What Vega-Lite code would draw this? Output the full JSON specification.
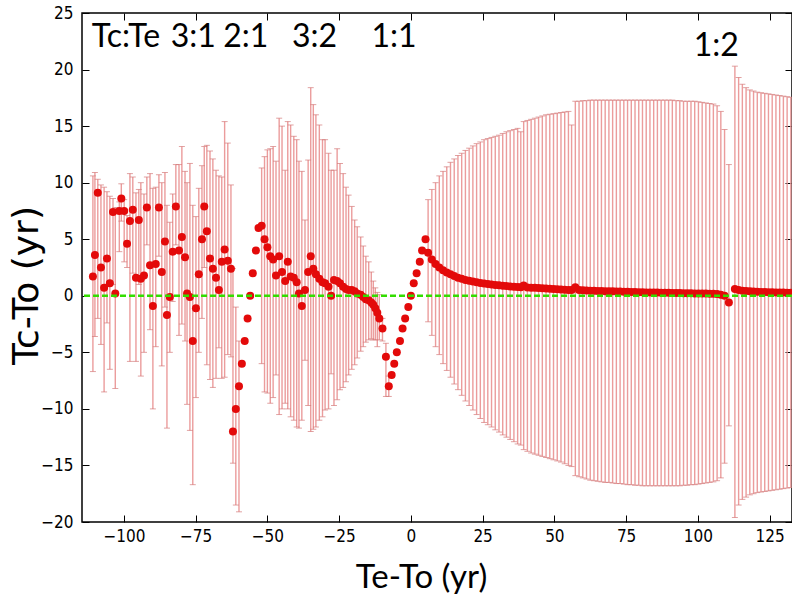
{
"$schema": "https://vega.github.io/schema/vega-lite/v6.json",
"width": 710, "height": 509,
"autosize": {"type": "none"},
"padding": {"left": 82, "top": 13, "right": 0, "bottom": 74},
"background": "white",
"datasets": {
"pts": [
{"x":-110.8,"y":1.7,"lo":-6.7,"hi":10.6},
{"x":-110.1,"y":3.6,"lo":-3.6,"hi":10.9},
{"x":-109.1,"y":9.1,"lo":-2.0,"hi":10.3},
{"x":-108.0,"y":2.5,"lo":-4.3,"hi":9.8},
{"x":-106.9,"y":0.7,"lo":-8.5,"hi":9.6},
{"x":-105.9,"y":3.3,"lo":-2.4,"hi":9.2},
{"x":-104.9,"y":1.1,"lo":-6.5,"hi":8.8},
{"x":-103.8,"y":7.4,"lo":1.0,"hi":8.6},
{"x":-103.0,"y":0.2,"lo":-8.2,"hi":7.8},
{"x":-101.6,"y":7.5,"lo":3.9,"hi":8.3},
{"x":-100.9,"y":8.6,"lo":6.6,"hi":9.9},
{"x":-99.9,"y":7.5,"lo":3.0,"hi":8.5},
{"x":-98.9,"y":4.6,"lo":2.5,"hi":7.1},
{"x":-97.9,"y":6.6,"lo":-5.8,"hi":10.8},
{"x":-96.9,"y":7.6,"lo":2.0,"hi":10.5},
{"x":-95.8,"y":1.6,"lo":-5.8,"hi":9.1},
{"x":-94.8,"y":6.7,"lo":1.0,"hi":9.4},
{"x":-94.1,"y":1.5,"lo":-7.1,"hi":10.0},
{"x":-93.0,"y":1.8,"lo":-5.0,"hi":9.0},
{"x":-92.0,"y":7.8,"lo":4.5,"hi":10.5},
{"x":-90.9,"y":2.7,"lo":-3.0,"hi":10.8},
{"x":-89.9,"y":-0.9,"lo":-10.0,"hi":9.5},
{"x":-88.9,"y":2.8,"lo":-4.5,"hi":9.6},
{"x":-87.8,"y":7.8,"lo":3.5,"hi":10.7},
{"x":-86.8,"y":2.1,"lo":-6.2,"hi":10.0},
{"x":-85.7,"y":4.8,"lo":-1.0,"hi":10.9},
{"x":-85.0,"y":-1.7,"lo":-11.7,"hi":8.0},
{"x":-84.0,"y":-0.1,"lo":-5.0,"hi":6.5},
{"x":-83.0,"y":3.9,"lo":-0.5,"hi":9.0},
{"x":-81.9,"y":7.9,"lo":4.5,"hi":11.6},
{"x":-80.8,"y":4.0,"lo":-3.5,"hi":11.6},
{"x":-79.8,"y":5.2,"lo":-2.5,"hi":13.2},
{"x":-78.7,"y":3.4,"lo":-4.0,"hi":11.0},
{"x":-78.0,"y":0.2,"lo":-9.6,"hi":10.0},
{"x":-77.0,"y":-0.1,"lo":-11.9,"hi":11.7},
{"x":-76.0,"y":-4.0,"lo":-16.7,"hi":8.0},
{"x":-74.9,"y":-1.1,"lo":-9.0,"hi":7.0},
{"x":-73.9,"y":1.9,"lo":-5.0,"hi":9.5},
{"x":-72.8,"y":5.0,"lo":-2.0,"hi":11.5},
{"x":-72.0,"y":7.9,"lo":2.5,"hi":13.2},
{"x":-71.1,"y":5.7,"lo":-6.1,"hi":13.3},
{"x":-70.0,"y":3.3,"lo":-7.4,"hi":12.8},
{"x":-69.0,"y":2.4,"lo":-8.1,"hi":12.1},
{"x":-67.9,"y":1.6,"lo":-7.3,"hi":11.1},
{"x":-66.9,"y":0.5,"lo":-4.6,"hi":10.6},
{"x":-65.9,"y":3.0,"lo":-7.3,"hi":10.5},
{"x":-64.9,"y":4.1,"lo":-7.2,"hi":15.4},
{"x":-63.8,"y":3.1,"lo":-5.2,"hi":13.5},
{"x":-62.7,"y":2.4,"lo":-5.4,"hi":9.8},
{"x":-62.0,"y":-12.0,"lo":-14.8,"hi":2.4},
{"x":-61.0,"y":-10.0,"lo":-18.5,"hi":-1.0},
{"x":-59.9,"y":-8.0,"lo":-19.1,"hi":-4.0},
{"x":-58.9,"y":-6.0},
{"x":-57.9,"y":-4.0},
{"x":-56.9,"y":-2.0},
{"x":-56.0,"y":0.0},
{"x":-55.1,"y":2.0},
{"x":-54.0,"y":4.0},
{"x":-53.1,"y":6.0},
{"x":-52.0,"y":6.2,"lo":-6.0,"hi":11.3},
{"x":-51.0,"y":5.0,"lo":-8.5,"hi":12.3},
{"x":-50.0,"y":4.3,"lo":-8.6,"hi":12.9},
{"x":-49.0,"y":3.5,"lo":-9.5,"hi":13.0},
{"x":-48.0,"y":3.2,"lo":-9.0,"hi":13.2},
{"x":-47.0,"y":1.8,"lo":-7.0,"hi":11.9},
{"x":-45.9,"y":3.5,"lo":-10.5,"hi":15.7},
{"x":-44.9,"y":2.1,"lo":-10.0,"hi":15.0},
{"x":-43.8,"y":1.3,"lo":-9.5,"hi":11.1},
{"x":-42.9,"y":3.0,"lo":-10.0,"hi":15.4},
{"x":-41.9,"y":1.7,"lo":-10.7,"hi":15.1},
{"x":-40.8,"y":1.6,"lo":-11.0,"hi":14.1},
{"x":-39.8,"y":1.2,"lo":-11.6,"hi":13.8},
{"x":-39.0,"y":0.2,"lo":-11.7,"hi":11.9},
{"x":-38.0,"y":-0.9,"lo":-11.0,"hi":11.0},
{"x":-36.9,"y":0.5,"lo":-5.7,"hi":6.7},
{"x":-35.8,"y":2.1,"lo":-9.7,"hi":12.0},
{"x":-34.9,"y":3.5,"lo":-12.0,"hi":18.4},
{"x":-34.0,"y":2.4,"lo":-11.8,"hi":16.9},
{"x":-33.1,"y":1.9,"lo":-11.6,"hi":16.0},
{"x":-31.9,"y":1.5,"lo":-11.0,"hi":15.1},
{"x":-30.8,"y":1.2,"lo":-10.7,"hi":13.8},
{"x":-29.9,"y":1.1,"lo":-10.1,"hi":13.8},
{"x":-28.7,"y":0.8,"lo":-10.0,"hi":12.6},
{"x":-27.8,"y":0.0,"lo":-6.9,"hi":11.1},
{"x":-26.8,"y":1.4,"lo":-9.7,"hi":11.1},
{"x":-25.7,"y":1.3,"lo":-9.2,"hi":13.0},
{"x":-24.7,"y":1.1,"lo":-8.3,"hi":11.7},
{"x":-23.6,"y":0.8,"lo":-8.1,"hi":10.8},
{"x":-22.6,"y":0.6,"lo":-7.6,"hi":9.6},
{"x":-21.7,"y":0.5,"lo":-7.0,"hi":8.9},
{"x":-20.6,"y":0.5,"lo":-6.5,"hi":7.9},
{"x":-19.6,"y":0.4,"lo":-6.1,"hi":6.7},
{"x":-18.7,"y":0.2,"lo":-5.5,"hi":6.1},
{"x":-17.5,"y":0.1,"lo":-4.9,"hi":5.2},
{"x":-16.6,"y":-0.1,"lo":-4.5,"hi":4.4},
{"x":-15.7,"y":-0.3,"lo":-4.1,"hi":3.5},
{"x":-14.7,"y":-0.4,"lo":-3.9,"hi":3.0},
{"x":-13.8,"y":-0.6,"lo":-3.8,"hi":2.1},
{"x":-13.1,"y":-0.8,"lo":-3.9,"hi":1.3},
{"x":-12.4,"y":-1.1,"lo":-3.9,"hi":0.7},
{"x":-11.7,"y":-1.5,"lo":-4.5,"hi":0.3},
{"x":-11.0,"y":-2.0,"lo":-3.9,"hi":0.1},
{"x":-9.9,"y":-2.9,"lo":-4.0,"hi":-2.0},
{"x":-8.7,"y":-5.4,"lo":-8.9,"hi":-4.2},
{"x":-7.7,"y":-8.0,"lo":-8.9,"hi":-7.1},
{"x":-6.7,"y":-7.0},
{"x":-5.8,"y":-6.0},
{"x":-4.9,"y":-5.0},
{"x":-3.8,"y":-4.0},
{"x":-2.9,"y":-2.9},
{"x":-2.0,"y":-2.0},
{"x":-0.9,"y":-1.0},
{"x":0.0,"y":0.0},
{"x":1.0,"y":1.1},
{"x":2.0,"y":2.0},
{"x":3.1,"y":3.0},
{"x":3.9,"y":4.0},
{"x":5.1,"y":5.0},
{"x":6.0,"y":3.8,"lo":-2.3,"hi":8.5},
{"x":7.3,"y":3.2,"lo":-3.5,"hi":9.4},
{"x":8.6,"y":2.8,"lo":-4.5,"hi":10.0},
{"x":9.9,"y":2.5,"lo":-5.2,"hi":10.6},
{"x":11.2,"y":2.25,"lo":-6.0,"hi":11.0},
{"x":12.5,"y":2.05,"lo":-6.6,"hi":11.4},
{"x":13.8,"y":1.9,"lo":-7.2,"hi":11.8},
{"x":15.1,"y":1.75,"lo":-7.8,"hi":12.1},
{"x":16.4,"y":1.6,"lo":-8.3,"hi":12.4},
{"x":17.7,"y":1.5,"lo":-8.8,"hi":12.6},
{"x":19.0,"y":1.4,"lo":-9.3,"hi":12.85},
{"x":20.3,"y":1.33,"lo":-9.7,"hi":13.05},
{"x":21.6,"y":1.26,"lo":-10.1,"hi":13.25},
{"x":22.9,"y":1.2,"lo":-10.5,"hi":13.45},
{"x":24.2,"y":1.14,"lo":-10.85,"hi":13.6},
{"x":25.5,"y":1.09,"lo":-11.2,"hi":13.8},
{"x":26.8,"y":1.04,"lo":-11.4,"hi":13.9},
{"x":28.1,"y":1.0,"lo":-11.6,"hi":14.0},
{"x":29.4,"y":0.96,"lo":-11.85,"hi":14.1},
{"x":30.7,"y":0.92,"lo":-12.05,"hi":14.2},
{"x":32.0,"y":0.89,"lo":-12.3,"hi":14.35},
{"x":33.3,"y":0.86,"lo":-12.5,"hi":14.5},
{"x":34.6,"y":0.83,"lo":-12.7,"hi":14.6},
{"x":35.9,"y":0.8,"lo":-12.9,"hi":14.7},
{"x":37.2,"y":0.78,"lo":-13.1,"hi":14.8},
{"x":38.3,"y":0.76,"lo":-13.2,"hi":14.5},
{"x":39.3,"y":0.9,"lo":-13.6,"hi":15.4},
{"x":40.6,"y":0.74,"lo":-13.75,"hi":15.5},
{"x":41.9,"y":0.72,"lo":-13.9,"hi":15.6},
{"x":43.2,"y":0.7,"lo":-14.0,"hi":15.7},
{"x":44.5,"y":0.68,"lo":-14.1,"hi":15.8},
{"x":45.8,"y":0.66,"lo":-14.2,"hi":15.9},
{"x":47.1,"y":0.64,"lo":-14.3,"hi":16.0},
{"x":48.4,"y":0.62,"lo":-14.4,"hi":16.05},
{"x":49.7,"y":0.6,"lo":-14.5,"hi":16.1},
{"x":51.0,"y":0.58,"lo":-14.6,"hi":16.15},
{"x":52.3,"y":0.56,"lo":-14.7,"hi":16.2},
{"x":53.6,"y":0.54,"lo":-14.85,"hi":16.25},
{"x":54.9,"y":0.52,"lo":-15.0,"hi":16.3},
{"x":56.0,"y":0.5,"lo":-15.1,"hi":15.1},
{"x":57.3,"y":0.75,"lo":-15.9,"hi":17.2},
{"x":58.6,"y":0.5,"lo":-16.0,"hi":17.2},
{"x":59.9,"y":0.48,"lo":-16.1,"hi":17.25},
{"x":61.2,"y":0.46,"lo":-16.2,"hi":17.25},
{"x":62.5,"y":0.45,"lo":-16.3,"hi":17.3},
{"x":63.8,"y":0.44,"lo":-16.35,"hi":17.3},
{"x":65.1,"y":0.43,"lo":-16.4,"hi":17.3},
{"x":66.4,"y":0.42,"lo":-16.45,"hi":17.3},
{"x":67.7,"y":0.41,"lo":-16.5,"hi":17.3},
{"x":69.0,"y":0.4,"lo":-16.5,"hi":17.3},
{"x":70.3,"y":0.39,"lo":-16.55,"hi":17.3},
{"x":71.6,"y":0.38,"lo":-16.6,"hi":17.3},
{"x":72.9,"y":0.37,"lo":-16.6,"hi":17.3},
{"x":74.2,"y":0.36,"lo":-16.65,"hi":17.3},
{"x":75.5,"y":0.35,"lo":-16.7,"hi":17.3},
{"x":76.8,"y":0.34,"lo":-16.7,"hi":17.3},
{"x":78.1,"y":0.33,"lo":-16.75,"hi":17.3},
{"x":79.4,"y":0.32,"lo":-16.75,"hi":17.3},
{"x":80.7,"y":0.31,"lo":-16.8,"hi":17.3},
{"x":82.0,"y":0.3,"lo":-16.8,"hi":17.3},
{"x":83.3,"y":0.3,"lo":-16.8,"hi":17.3},
{"x":84.6,"y":0.29,"lo":-16.8,"hi":17.3},
{"x":85.9,"y":0.28,"lo":-16.8,"hi":17.3},
{"x":87.2,"y":0.27,"lo":-16.8,"hi":17.3},
{"x":88.5,"y":0.27,"lo":-16.8,"hi":17.3},
{"x":89.8,"y":0.26,"lo":-16.8,"hi":17.3},
{"x":91.1,"y":0.25,"lo":-16.8,"hi":17.3},
{"x":92.4,"y":0.25,"lo":-16.8,"hi":17.25},
{"x":93.7,"y":0.24,"lo":-16.8,"hi":17.25},
{"x":95.0,"y":0.23,"lo":-16.75,"hi":17.2},
{"x":96.3,"y":0.23,"lo":-16.75,"hi":17.2},
{"x":97.6,"y":0.22,"lo":-16.7,"hi":17.2},
{"x":98.9,"y":0.21,"lo":-16.7,"hi":17.2},
{"x":100.2,"y":0.21,"lo":-16.65,"hi":17.15},
{"x":101.5,"y":0.2,"lo":-16.6,"hi":17.1},
{"x":102.8,"y":0.2,"lo":-16.55,"hi":17.05},
{"x":104.1,"y":0.19,"lo":-16.5,"hi":17.0},
{"x":105.4,"y":0.18,"lo":-16.45,"hi":16.95},
{"x":106.7,"y":0.16,"lo":-16.35,"hi":16.8},
{"x":108.0,"y":0.1,"lo":-16.1,"hi":16.3},
{"x":109.3,"y":0.0,"lo":-14.8,"hi":14.7},
{"x":110.8,"y":-0.6,"lo":-11.5,"hi":11.6},
{"x":112.9,"y":0.6,"lo":-19.6,"hi":20.3},
{"x":114.2,"y":0.5,"lo":-18.5,"hi":19.3},
{"x":115.5,"y":0.45,"lo":-18.0,"hi":18.7},
{"x":116.8,"y":0.42,"lo":-17.8,"hi":18.4},
{"x":118.1,"y":0.4,"lo":-17.6,"hi":18.2},
{"x":119.4,"y":0.38,"lo":-17.5,"hi":18.1},
{"x":120.7,"y":0.36,"lo":-17.4,"hi":18.0},
{"x":122.0,"y":0.34,"lo":-17.35,"hi":17.95},
{"x":123.3,"y":0.33,"lo":-17.3,"hi":17.9},
{"x":124.6,"y":0.32,"lo":-17.25,"hi":17.85},
{"x":125.9,"y":0.31,"lo":-17.2,"hi":17.8},
{"x":127.2,"y":0.3,"lo":-17.15,"hi":17.75},
{"x":128.5,"y":0.29,"lo":-17.1,"hi":17.7},
{"x":129.8,"y":0.28,"lo":-17.05,"hi":17.65},
{"x":131.1,"y":0.27,"lo":-17.0,"hi":17.6},
{"x":132.4,"y":0.26,"lo":-16.95,"hi":17.55}
],
"notes": [
{"t":"Tc:Te","x":-99.3,"y":22.9},
{"t":"3:1","x":-75.8,"y":22.9},
{"t":"2:1","x":-57.5,"y":22.9},
{"t":"3:2","x":-33.6,"y":22.9},
{"t":"1:1","x":-5.9,"y":22.9},
{"t":"1:2","x":106.4,"y":22.1}
],
"zero": [{"level": 0}]
},
"resolve": {"axis": {"x": "independent", "y": "independent"}},
"layer": [
{
"data": {"name": "pts"},
"transform": [{"filter": "isValid(datum.lo)"}],
"mark": {"type": "rule", "color": "#eb9c9c", "strokeWidth": 1.4},
"encoding": {
"x": {"field": "x", "type": "quantitative", "scale": {"domain": [-114.6, 132.8], "nice": false, "zero": false}, "axis": null},
"y": {"field": "lo", "type": "quantitative", "scale": {"domain": [-20, 25], "nice": false, "zero": false}, "axis": null},
"y2": {"field": "hi"}
}
},
{
"data": {"name": "pts"},
"transform": [{"filter": "isValid(datum.lo)"}],
"mark": {"type": "tick", "orient": "horizontal", "color": "#d47a7a", "size": 6, "thickness": 1},
"encoding": {
"x": {"field": "x", "type": "quantitative", "axis": null},
"y": {"field": "lo", "type": "quantitative", "axis": null}
}
},
{
"data": {"name": "pts"},
"transform": [{"filter": "isValid(datum.hi)"}],
"mark": {"type": "tick", "orient": "horizontal", "color": "#d47a7a", "size": 6, "thickness": 1},
"encoding": {
"x": {"field": "x", "type": "quantitative", "axis": null},
"y": {"field": "hi", "type": "quantitative", "axis": null}
}
},
{
"data": {"name": "pts"},
"mark": {"type": "circle", "color": "#e30a0a", "size": 64, "opacity": 1},
"encoding": {
"x": {"field": "x", "type": "quantitative", "axis": {"orient": "bottom", "values": [-100, -75, -50, -25, 0, 25, 50, 75, 100, 125], "title": "Te-To (yr)", "titleFont": "Lato", "titleFontSize": 33, "titleX": 339, "titleY": 65, "titleBaseline": "alphabetic", "labelPadding": 13}},
"y": {"field": "y", "type": "quantitative", "axis": {"orient": "left", "values": [-20, -15, -10, -5, 0, 5, 10, 15, 20, 25], "title": "Tc-To (yr)", "titleFont": "DejaVu Sans", "titleFontSize": 36, "titleX": -45, "titleY": 272, "titleBaseline": "alphabetic", "titleAngle": 270, "labelPadding": 16}}
}
},
{
"data": {"name": "zero"},
"mark": {"type": "rule", "color": "#33dd00", "strokeWidth": 2.5, "strokeDash": [6, 3]},
"encoding": {"y": {"field": "level", "type": "quantitative", "axis": null}}
},
{
"data": {"name": "notes"},
"mark": {"type": "text", "font": "Lato", "fontSize": 32, "color": "#000", "align": "center", "baseline": "middle"},
"encoding": {
"x": {"field": "x", "type": "quantitative", "axis": null},
"y": {"field": "y", "type": "quantitative", "axis": null},
"text": {"field": "t"}
}
},
{
"data": {"name": "pts"},
"mark": {"type": "point", "opacity": 0},
"encoding": {
"x": {"field": "x", "type": "quantitative", "axis": {"orient": "top", "labels": false, "title": null, "values": [-100, -75, -50, -25, 0, 25, 50, 75, 100, 125]}},
"y": {"field": "y", "type": "quantitative", "axis": {"orient": "right", "labels": false, "title": null, "values": [-20, -15, -10, -5, 0, 5, 10, 15, 20, 25]}}
}
}
],
"config": {
"view": {"stroke": "#000", "strokeWidth": 1.5},
"axis": {"grid": false, "domain": false, "ticks": true, "tickColor": "#000", "tickWidth": 1, "tickSize": -7, "labelFont": "Liberation Sans Narrow, DejaVu Sans Condensed, sans-serif", "labelFontSize": 17, "labelColor": "#000", "titleColor": "#000", "titleFontWeight": "normal"}
}
}
